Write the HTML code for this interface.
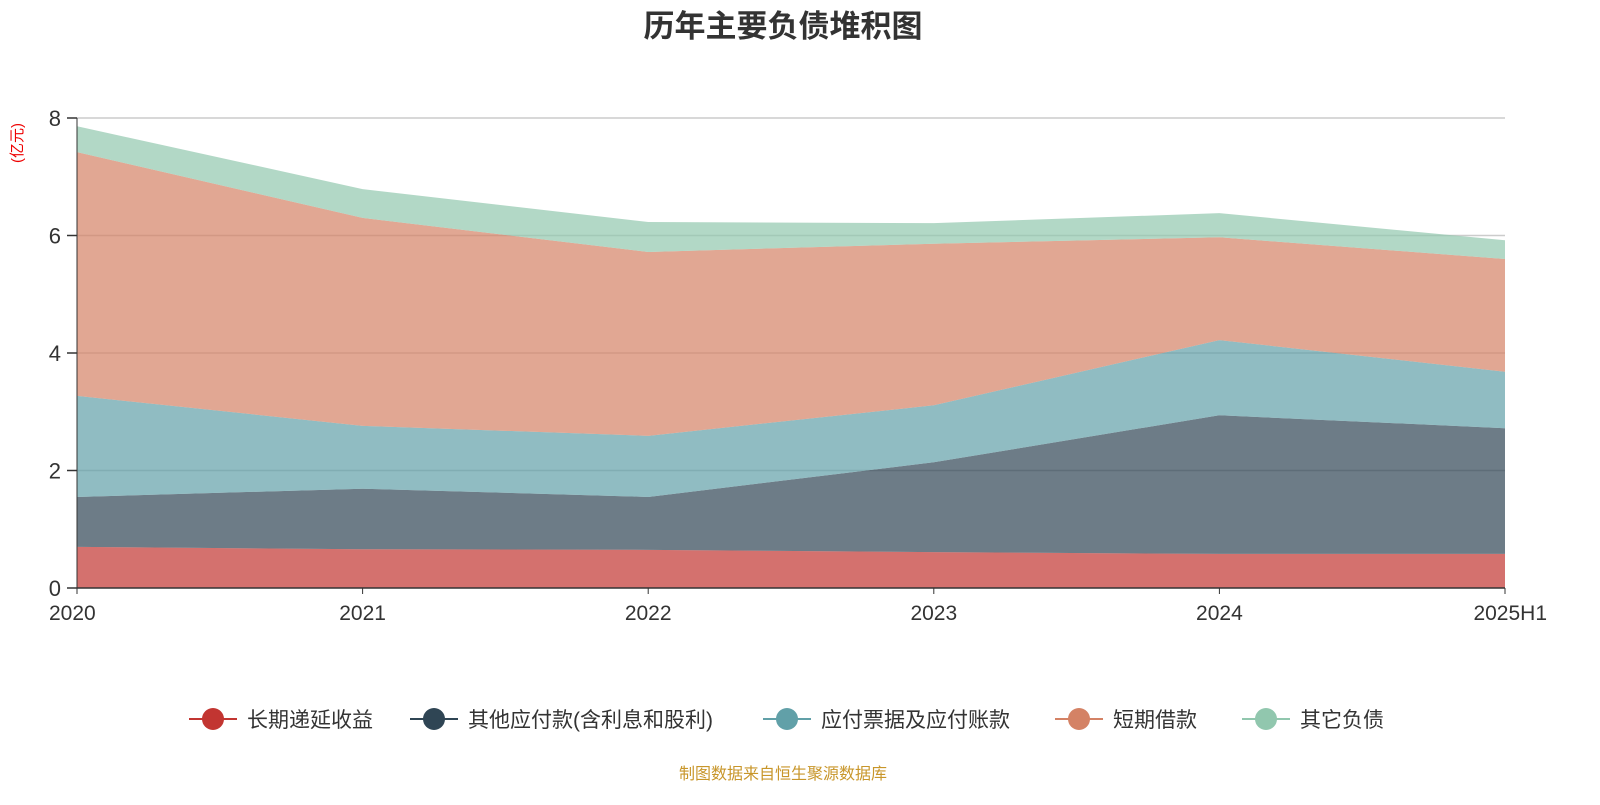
<!DOCTYPE html>
<html><head><meta charset="utf-8"><style>
body{margin:0;background:#fff;font-family:"Liberation Sans","Noto Sans CJK SC",sans-serif;}
svg text{font-family:"Liberation Sans","Noto Sans CJK SC",sans-serif;}
</style></head><body>
<svg id="c" width="1600" height="800">
<text x="783" y="37" text-anchor="middle" font-size="31" font-weight="bold" fill="#333">历年主要负债堆积图</text>
<text transform="translate(22,143) rotate(-90)" text-anchor="middle" font-size="15" fill="#e00">(亿元)</text>
<g id="grid"></g><g id="areas"></g><g id="axes"></g><g id="legend"></g>
<text x="783" y="779" text-anchor="middle" font-size="16" fill="#c8962a">制图数据来自恒生聚源数据库</text>
</svg>
<script>
const categories=["2020","2021","2022","2023","2024","2025H1"];
const seriesNames=["长期递延收益","其他应付款(含利息和股利)","应付票据及应付账款","短期借款","其它负债"];
const s1=[0.70,0.66,0.65,0.61,0.58,0.58];
const s2=[0.85,1.03,0.90,1.53,2.36,2.14];
const s3=[1.72,1.07,1.04,0.97,1.28,0.96];
const s4=[4.15,3.54,3.13,2.75,1.75,1.92];
const s5=[0.44,0.49,0.51,0.35,0.41,0.32];
const yTicks=[0,2,4,6,8];
const colors=["#c23531","#2f4554","#61a0a8","#d48265","#91c7ae"];
const ns="http://www.w3.org/2000/svg";
const X0=77,X1=1505,Y0=588,Y1=118;
const xs=i=>X0+(X1-X0)*i/(categories.length-1);
const ys=v=>Y0-(Y0-Y1)*v/8;
function mk(t,a,p){const e=document.createElementNS(ns,t);for(const k in a)e.setAttribute(k,a[k]);p.appendChild(e);return e;}
const grid=document.getElementById('grid'),axes=document.getElementById('axes'),areas=document.getElementById('areas'),leg=document.getElementById('legend');
yTicks.forEach(t=>{
 const l=mk('line',{x1:X0,x2:X1,y1:ys(t),y2:ys(t),stroke:t?"#ccc":"#333","stroke-width":1.5},t?grid:axes);
 
 
 mk('line',{x1:X0-10,x2:X0,y1:ys(t),y2:ys(t),stroke:"#333","stroke-width":1.5},axes);
 const tx=mk('text',{x:X0-16,y:ys(t)+8,"text-anchor":"end","font-size":22,fill:"#333"},axes);tx.textContent=t;
 
 
});
const ya=mk('line',{x1:X0,x2:X0,y1:Y1,y2:Y0,stroke:"#333","stroke-width":1},axes);


categories.forEach((c,i)=>{
 mk('line',{x1:xs(i),x2:xs(i),y1:Y0,y2:Y0+6,stroke:"#333"},axes);
 const tx=mk('text',{x:xs(i),y:Y0+32,"text-anchor":i==0?"start":(i==categories.length-1?"end":"middle"),"font-size":21,fill:"#333"},axes);
 if(i==0)tx.setAttribute('x',xs(i)-28);
 if(i==categories.length-1)tx.setAttribute('x',xs(i)+42);
 tx.textContent=c;
 
 
});
const series=[s1,s2,s3,s4,s5];
let base=categories.map(()=>0);
series.forEach((s,k)=>{
 const top=base.map((b,i)=>b+s[i]);
 let d="M"+top.map((v,i)=>xs(i)+","+ys(v)).join(" L");
 for(let i=categories.length-1;i>=0;i--)d+=" L"+xs(i)+","+ys(base[i]);
 const p=mk('path',{d:d+"Z",fill:colors[k],"fill-opacity":0.7,stroke:"none"},areas);
 
 
 base=top;
});
const lx=[189,410,763,1055,1242];
seriesNames.forEach((n,k)=>{
 const g=mk('g',{},leg);
 
 
 mk('line',{x1:lx[k],x2:lx[k]+48,y1:719,y2:719,stroke:colors[k],"stroke-width":2},g);
 mk('circle',{cx:lx[k]+24,cy:719,r:11,fill:colors[k]},g);
 const t=mk('text',{x:lx[k]+58,y:727,"font-size":21,fill:"#333"},g);t.textContent=n;
});
</script>
</body></html>
